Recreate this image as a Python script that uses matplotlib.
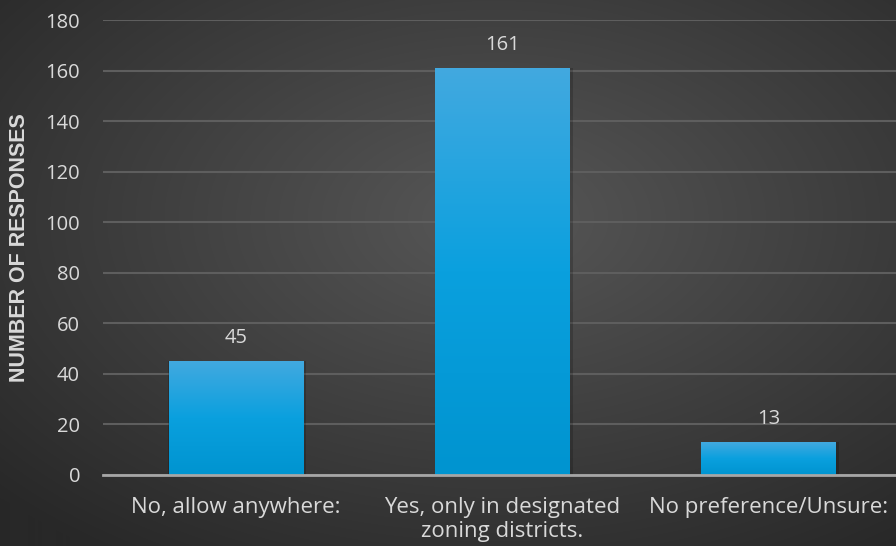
import numpy as np
import matplotlib
matplotlib.use("Agg")
import matplotlib.pyplot as plt
from matplotlib.colors import LinearSegmentedColormap

categories = ["No, allow anywhere:", "Yes, only in designated\nzoning districts.", "No preference/Unsure:"]
values = [45, 161, 13]
yticks = [0, 20, 40, 60, 80, 100, 120, 140, 160, 180]
ylabel = "NUMBER OF RESPONSES"

W, H = 896, 546
fig = plt.figure(figsize=(W / 100, H / 100), dpi=100)

# radial background
bg = fig.add_axes([0, 0, 1, 1])
yy, xx = np.mgrid[0:H, 0:W]
cx, cy = W * 0.55, H * 0.40
r = np.sqrt(((xx - cx) / W) ** 2 + ((yy - cy) / H) ** 2)
r = np.clip(r / 0.75, 0, 1)
c0 = np.array([0x57, 0x57, 0x57]) / 255
c1 = np.array([0x28, 0x28, 0x28]) / 255
img = c0[None, None, :] * (1 - r[..., None]) + c1[None, None, :] * r[..., None]
bg.imshow(img, extent=[0, 1, 0, 1], aspect="auto", origin="upper")
bg.axis("off")

font = "Open Sans"
tc = "#D9D9D9"

ax = fig.add_axes([103 / W, (H - 475) / H, 799 / W, 455 / H])
ax.patch.set_alpha(0)
x = np.arange(len(values))
width = 0.506
bars = ax.bar(x, values, width=width, color="none", zorder=3)
cmap = LinearSegmentedColormap.from_list("b", ["#0094D0", "#0AA0DE", "#42A9E0"])
grad = np.linspace(0, 1, 256).reshape(-1, 1)
for b in bars:
    x0, w, h = b.get_x(), b.get_width(), b.get_height()
    ax.bar(x0 + w / 2 + 0.004, h, width=w + 0.012, color="black", alpha=0.18, zorder=2)
    ax.imshow(grad, cmap=cmap, extent=[x0, x0 + w, 0, h], origin="lower",
              aspect="auto", zorder=3)
for xi, v in zip(x, values):
    ax.annotate(str(v), (xi, v), xytext=(0, 16.5), textcoords="offset points",
                ha="center", va="center", color=tc, fontsize=14.5, family=font)

ax.set_xlim(-0.5, 2.5)
ax.set_ylim(0, 180)
ax.set_yticks(yticks)
ax.set_yticklabels([str(t) for t in yticks], family=font, fontsize=14.5, color=tc)
ax.set_xticks(x)
ax.set_xticklabels(categories, family=font, fontsize=16, color=tc, linespacing=1.2)
ax.tick_params(axis="both", length=0)
ax.tick_params(axis="y", pad=16.5)
ax.tick_params(axis="x", pad=16)
ax.grid(axis="y", color="#5E5E5E", linewidth=1.5, zorder=0)
ax.set_axisbelow(True)
for s in ["top", "right", "left"]:
    ax.spines[s].set_visible(False)
ax.spines["bottom"].set_color("#A6A6A6")
ax.spines["bottom"].set_linewidth(2)
ax.spines["bottom"].set_zorder(4)
fig.text(20 / W, 1 - 248 / H, ylabel, rotation=90, ha="center", va="center",
         color=tc, fontsize=15.5, fontweight="bold", family="Liberation Sans")

fig.savefig("out.png", dpi=100)
